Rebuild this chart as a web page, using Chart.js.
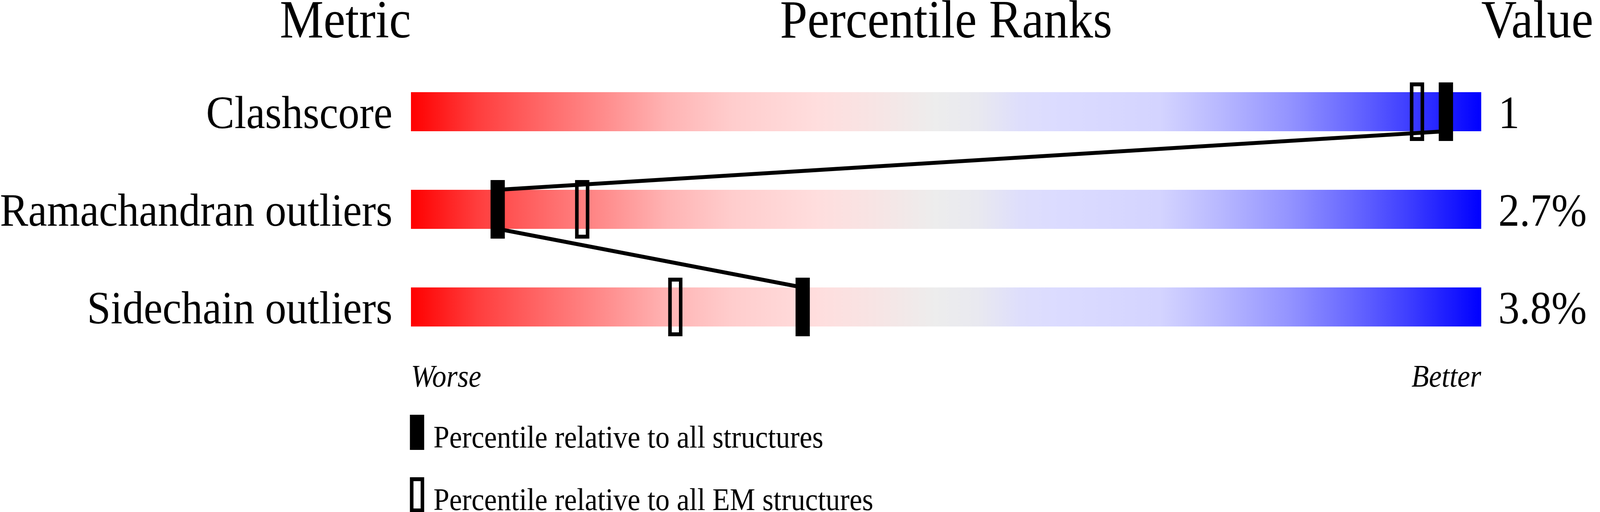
<!DOCTYPE html>
<html>
<head>
<meta charset="utf-8">
<title>Percentile Ranks</title>
<script src="https://cdn.jsdelivr.net/npm/chart.js@4.4.1/dist/chart.umd.min.js"></script>
<style>
  html, body { margin: 0; padding: 0; background: #fff; overflow: hidden; }
  #wrap { width: 4485px; height: 1311px; position: relative; transform-origin: 0 0; }
</style>
</head>
<body>
<div id="wrap"><canvas id="slider"></canvas></div>
<script>
// values
const METRICS = ["Clashscore", "Ramachandran outliers", "Sidechain outliers"];
const VALUE_LABELS = ["1", "2.7%", "3.8%"];
const PCT_ALL = [96.7, 8.1, 36.6];   // black markers
const PCT_EM = [94.0, 16.0, 24.7];   // open markers
const AXIS_ENDS = ["Worse", "Better"];
const HEADERS = ["Metric", "Percentile Ranks", "Value"];
const LEGEND_LABELS = [
  "Percentile relative to all structures",
  "Percentile relative to all EM structures",
];

// slider colours
const GRAD_STOPS = [0, 0.06, 0.12, 0.18, 0.24, 0.30, 0.38, 0.43, 0.49, 0.53, 0.57, 0.60, 0.70, 0.76, 0.82, 0.88, 0.93, 1];
const GRAD_COLORS = [
  "rgb(255,0,0)", "rgb(255,60,60)", "rgb(255,102,102)", "rgb(255,140,140)",
  "rgb(255,180,180)", "rgb(255,205,205)", "rgb(255,222,222)", "rgb(248,228,228)",
  "rgb(237,237,237)", "rgb(233,233,240)", "rgb(222,222,252)", "rgb(220,220,255)",
  "rgb(212,212,255)", "rgb(182,182,255)", "rgb(148,148,255)", "rgb(104,104,255)",
  "rgb(64,64,255)", "rgb(0,0,255)",
];

const SERIF = "'Liberation Serif', 'Times New Roman', serif";
const MARKER_SPAN = 4 / 3;  // marker width in percentile units
const BAR_HALF = 0.2;       // half the slider height in row units

// the page is laid out at 4485x1311; fit it to whatever window we get
const wrap = document.getElementById("wrap");
const sx = window.innerWidth / 4485;
const sy = window.innerHeight / 1311;
if (Math.abs(sx - 1) > 0.001 || Math.abs(sy - 1) > 0.001) {
  wrap.style.transform = `scale(${sx}, ${sy})`;
}

function trackGradient(context) {
  const chart = context.chart;
  const x = chart.scales.x;
  if (!chart.chartArea || !x) return GRAD_COLORS[8];
  const x0 = x.getPixelForValue(0);
  const x1 = x.getPixelForValue(100);
  if (!isFinite(x0) || !isFinite(x1) || x0 === x1) return GRAD_COLORS[8];
  const g = chart.ctx.createLinearGradient(x0, 0, x1, 0);
  GRAD_STOPS.forEach((s, i) => g.addColorStop(s, GRAD_COLORS[i]));
  return g;
}

function markerData(list) {
  return list.map((p, i) => ({ x: [p - MARKER_SPAN / 2, p + MARKER_SPAN / 2], y: i }));
}

// line joining the black markers, from the bottom of one slider to the top of the next
const linkData = [];
PCT_ALL.forEach((p, i) => {
  if (i > 0) linkData.push({ x: p, y: i - BAR_HALF });
  if (i < PCT_ALL.length - 1) linkData.push({ x: p, y: i + BAR_HALF });
});

// headers and legend
const textPlugin = {
  id: "textPlugin",
  afterDraw(chart) {
    const { ctx, chartArea } = chart;
    ctx.save();
    ctx.fillStyle = "#000";
    ctx.strokeStyle = "#000";
    ctx.textBaseline = "alphabetic";
    ctx.font = "138px " + SERIF;
    const hy = chartArea.top - 65;
    ctx.textAlign = "right";
    ctx.fillText(HEADERS[0], chartArea.left, hy);
    ctx.textAlign = "center";
    ctx.fillText(HEADERS[1], (chartArea.left + chartArea.right) / 2, hy);
    ctx.textAlign = "left";
    ctx.fillText(HEADERS[2], chartArea.right, hy);

    ctx.font = "80px " + SERIF;
    LEGEND_LABELS.forEach((label, i) => {
      const top = chartArea.bottom + 151 + i * 160;
      if (i === 0) {
        ctx.fillRect(chartArea.left - 3, top, 40, 90);
      } else {
        ctx.lineWidth = 10;
        ctx.strokeRect(chartArea.left + 2, top + 5, 30, 80);
      }
      ctx.fillText(label, chartArea.left + 63, top + 84);
    });
    ctx.restore();
  },
};

function rowAxis(position, labels, width, padding) {
  return {
    type: "linear",
    position,
    min: -0.5,
    max: 2.5,
    reverse: true,
    offset: false,
    grid: { display: false, drawTicks: false },
    border: { display: false },
    afterBuildTicks: (s) => { s.ticks = labels.map((_, i) => ({ value: i })); },
    afterFit: (s) => { s.width = width; },
    ticks: {
      padding,
      labelOffset: 11,
      color: "#000",
      font: { family: SERIF, size: 119 },
      callback: (v) => labels[v],
    },
  };
}

new Chart(document.getElementById("slider"), {
  data: {
    datasets: [
      {
        type: "bar",
        label: LEGEND_LABELS[0],
        data: markerData(PCT_ALL),
        backgroundColor: "#000",
        borderWidth: 0,
        grouped: false,
        categoryPercentage: 1,
        barPercentage: 0.6,
        order: 0,
      },
      {
        type: "bar",
        label: LEGEND_LABELS[1],
        data: markerData(PCT_EM),
        backgroundColor: "rgba(0,0,0,0)",
        borderColor: "#000",
        borderWidth: 10,
        borderSkipped: false,
        grouped: false,
        categoryPercentage: 1,
        barPercentage: 0.6,
        order: 0,
      },
      {
        type: "line",
        label: "link",
        data: linkData,
        borderColor: "#000",
        borderWidth: 10,
        pointRadius: 0,
        tension: 0,
        fill: false,
        order: 1,
      },
      {
        type: "bar",
        label: "slider",
        data: METRICS.map((_, i) => ({ x: [0, 100], y: i })),
        backgroundColor: trackGradient,
        borderWidth: 0,
        grouped: false,
        categoryPercentage: 1,
        barPercentage: 0.4,
        order: 2,
      },
    ],
  },
  options: {
    indexAxis: "y",
    responsive: true,
    maintainAspectRatio: false,
    devicePixelRatio: 1,
    animation: false,
    events: [],
    layout: { padding: { top: 161, left: 0, right: 0, bottom: 0 } },
    plugins: {
      legend: { display: false },
      tooltip: { enabled: false },
    },
    scales: {
      x: {
        type: "linear",
        position: "bottom",
        min: 0,
        max: 100,
        grid: { display: false, drawTicks: false },
        border: { display: false },
        afterBuildTicks: (s) => { s.ticks = [{ value: 0 }, { value: 100 }]; },
        afterFit: (s) => { s.height = 400; },
        ticks: {
          align: "inner",
          padding: 10,
          maxRotation: 0,
          color: "#000",
          font: { family: SERIF, size: 80, style: "italic" },
          callback: (v, i) => AXIS_ENDS[i],
        },
      },
      y: rowAxis("left", METRICS, 1152, 52),
      y2: rowAxis("right", VALUE_LABELS, 333, 48),
    },
  },
  plugins: [textPlugin],
});
</script>
</body>
</html>
